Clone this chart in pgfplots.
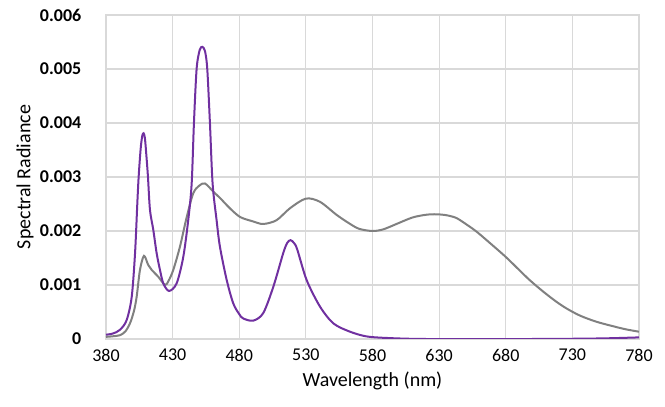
\documentclass[border=0pt]{standalone}
\usepackage{pgfplots}
\pgfplotsset{compat=1.18}
\usepackage{fontspec}
\setmainfont{Carlito}
\definecolor{cPurple}{RGB}{112,48,160}
\definecolor{cGray}{RGB}{128,128,128}
\definecolor{cGrid}{RGB}{217,217,217}

\begin{document}
\begin{tikzpicture}
\begin{axis}[scale only axis,width=399.75pt,height=243pt,
  xmin=380,xmax=780,ymin=0,ymax=0.006,
  xtick={380,430,...,780},
  ytick={0,0.001,0.002,0.003,0.004,0.005,0.006},
  yticklabels={0,0.001,0.002,0.003,0.004,0.005,0.006},
  scaled y ticks=false,
  grid=major,major grid style={cGrid,line width=0.8pt},
  axis line style={cGrid,line width=0.8pt},
  tick style={draw=none},
  /pgf/number format/assume math mode=true,
  xticklabel style={font=\fontsize{13.5}{15}\selectfont,yshift=-4pt},
  yticklabel style={font=\bfseries\fontsize{13.5}{15}\selectfont,xshift=-15pt},
  xlabel={Wavelength (nm)},ylabel={Spectral Radiance},
  xlabel style={yshift=-1pt},ylabel style={yshift=-2pt},
  label style={font=\fontsize{15}{17}\selectfont},
  every axis plot/.append style={line width=1.5pt,smooth,no marks}]
% gray spectrum
\addplot[cGray] coordinates {(380,0.00004) (385,0.00005) (390.5,0.00007) (394.5,0.00014) (398,0.00029) (401,0.00052) (403,0.00078) (405.5,0.00128) (408.5,0.00154) (411.7,0.00137) (414.3,0.00128) (419.3,0.00115) (424.3,0.001) (427,0.00108) (430.5,0.00128) (435.5,0.00171) (440.6,0.00226) (445.5,0.0027) (450,0.00284) (454.3,0.00288) (460.5,0.00273) (466,0.0026) (473,0.00242) (480.6,0.00226) (490,0.00218) (498,0.00213) (508,0.0022) (518,0.00242) (530,0.0026) (540.6,0.00254) (553,0.0023) (562.6,0.00214) (570,0.00204) (580,0.002) (588,0.00203) (598,0.00213) (610,0.00225) (620,0.0023) (628,0.00231) (636,0.00229) (643,0.00224) (650,0.00213) (658,0.00199) (668,0.00178) (680,0.00152) (690,0.00128) (698,0.00109) (708,0.00088) (718,0.00069) (726,0.00056) (736,0.00043) (748,0.00032) (760,0.00024) (770,0.00018) (780,0.000135)};
% purple spectrum
\addplot[cPurple] coordinates {(380,0.00008) (385,0.0001) (390.5,0.00017) (395.5,0.00035) (399.3,0.00078) (401.8,0.00159) (403.5,0.00251) (404.5,0.003) (406,0.00352) (407.2,0.00376) (408.2,0.00381) (409.2,0.00372) (410.3,0.0034) (411.5,0.003) (413,0.00239) (415.5,0.00202) (418,0.00159) (420.5,0.00128) (423,0.00103) (427.3,0.00089) (433,0.00103) (438,0.00152) (441.8,0.00222) (444.3,0.00288) (446,0.004) (448,0.005) (450.3,0.00535) (452.3,0.00541) (454.3,0.00533) (456,0.005) (458,0.004) (460,0.00288) (463,0.0022) (465.5,0.00171) (470.6,0.00109) (475.5,0.00066) (480,0.00046) (483,0.00038) (490.5,0.00034) (498,0.00048) (505.6,0.00097) (513,0.00159) (516,0.00178) (518.5,0.00183) (521,0.00178) (523.5,0.00166) (530.6,0.00109) (540.6,0.0006) (550.6,0.00029) (562.6,0.00014) (575,0.00005) (590,0.00002) (620,0.0) (700,0.0) (750,0.00001) (780,0.00003)};
\end{axis}
\pgfresetboundingbox
\useasboundingbox (current axis.south west) ++(-79.5pt,-51pt) rectangle ++(498.75pt,305.25pt);
\end{tikzpicture}
\end{document}
